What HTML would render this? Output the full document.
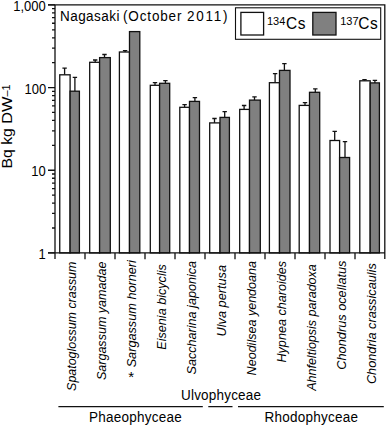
<!DOCTYPE html><html><head><meta charset="utf-8"><style>html,body{margin:0;padding:0;background:#fff;width:387px;height:426px;overflow:hidden}svg{display:block}text{font-family:"Liberation Sans",sans-serif;fill:#000}</style></head><body>
<svg width="387" height="426" viewBox="0 0 387 426">
<path d="M64.60 74.80V68.20M62.40 68.20H66.80" stroke="#111" stroke-width="1.3" fill="none"/>
<path d="M74.90 91.20V77.30M72.70 77.30H77.10" stroke="#111" stroke-width="1.3" fill="none"/>
<rect x="59.75" y="74.80" width="10.35" height="178.10" fill="#fff" stroke="#111" stroke-width="1.3"/>
<rect x="70.10" y="91.20" width="9.30" height="161.70" fill="#808080" stroke="#111" stroke-width="1.3"/>
<path d="M95.20 62.30V60.00M93.00 60.00H97.40" stroke="#111" stroke-width="1.3" fill="none"/>
<path d="M104.50 57.60V54.50M102.30 54.50H106.70" stroke="#111" stroke-width="1.3" fill="none"/>
<rect x="89.70" y="62.30" width="9.90" height="190.60" fill="#fff" stroke="#111" stroke-width="1.3"/>
<rect x="99.60" y="57.60" width="10.70" height="195.30" fill="#808080" stroke="#111" stroke-width="1.3"/>
<path d="M125.10 52.00V50.60M122.90 50.60H127.30" stroke="#111" stroke-width="1.3" fill="none"/>
<rect x="119.40" y="52.00" width="10.10" height="200.90" fill="#fff" stroke="#111" stroke-width="1.3"/>
<rect x="129.50" y="31.60" width="10.30" height="221.30" fill="#808080" stroke="#111" stroke-width="1.3"/>
<path d="M155.00 85.30V82.70M152.80 82.70H157.20" stroke="#111" stroke-width="1.3" fill="none"/>
<path d="M165.40 83.30V80.60M163.20 80.60H167.60" stroke="#111" stroke-width="1.3" fill="none"/>
<rect x="150.30" y="85.30" width="9.30" height="167.60" fill="#fff" stroke="#111" stroke-width="1.3"/>
<rect x="159.60" y="83.30" width="10.10" height="169.60" fill="#808080" stroke="#111" stroke-width="1.3"/>
<path d="M184.60 107.30V104.60M182.40 104.60H186.80" stroke="#111" stroke-width="1.3" fill="none"/>
<path d="M194.90 101.40V97.60M192.70 97.60H197.10" stroke="#111" stroke-width="1.3" fill="none"/>
<rect x="179.80" y="107.30" width="9.70" height="145.60" fill="#fff" stroke="#111" stroke-width="1.3"/>
<rect x="189.50" y="101.40" width="10.00" height="151.50" fill="#808080" stroke="#111" stroke-width="1.3"/>
<path d="M214.50 122.90V118.50M212.30 118.50H216.70" stroke="#111" stroke-width="1.3" fill="none"/>
<path d="M224.70 117.40V111.70M222.50 111.70H226.90" stroke="#111" stroke-width="1.3" fill="none"/>
<rect x="209.70" y="122.90" width="10.30" height="130.00" fill="#fff" stroke="#111" stroke-width="1.3"/>
<rect x="220.00" y="117.40" width="9.40" height="135.50" fill="#808080" stroke="#111" stroke-width="1.3"/>
<path d="M244.10 109.40V105.50M241.90 105.50H246.30" stroke="#111" stroke-width="1.3" fill="none"/>
<path d="M254.50 100.10V96.80M252.30 96.80H256.70" stroke="#111" stroke-width="1.3" fill="none"/>
<rect x="239.70" y="109.40" width="9.80" height="143.50" fill="#fff" stroke="#111" stroke-width="1.3"/>
<rect x="249.50" y="100.10" width="10.80" height="152.80" fill="#808080" stroke="#111" stroke-width="1.3"/>
<path d="M275.10 82.70V73.70M272.90 73.70H277.30" stroke="#111" stroke-width="1.3" fill="none"/>
<path d="M284.40 70.40V63.70M282.20 63.70H286.60" stroke="#111" stroke-width="1.3" fill="none"/>
<rect x="269.40" y="82.70" width="10.10" height="170.20" fill="#fff" stroke="#111" stroke-width="1.3"/>
<rect x="279.50" y="70.40" width="10.50" height="182.50" fill="#808080" stroke="#111" stroke-width="1.3"/>
<path d="M305.00 105.40V102.70M302.80 102.70H307.20" stroke="#111" stroke-width="1.3" fill="none"/>
<path d="M315.30 92.30V88.90M313.10 88.90H317.50" stroke="#111" stroke-width="1.3" fill="none"/>
<rect x="299.20" y="105.40" width="10.30" height="147.50" fill="#fff" stroke="#111" stroke-width="1.3"/>
<rect x="309.50" y="92.30" width="10.20" height="160.60" fill="#808080" stroke="#111" stroke-width="1.3"/>
<path d="M334.70 140.50V131.40M332.50 131.40H336.90" stroke="#111" stroke-width="1.3" fill="none"/>
<path d="M345.00 157.50V141.70M342.80 141.70H347.20" stroke="#111" stroke-width="1.3" fill="none"/>
<rect x="330.00" y="140.50" width="9.60" height="112.40" fill="#fff" stroke="#111" stroke-width="1.3"/>
<rect x="339.60" y="157.50" width="10.00" height="95.40" fill="#808080" stroke="#111" stroke-width="1.3"/>
<path d="M364.50 80.80V79.60M362.30 79.60H366.70" stroke="#111" stroke-width="1.3" fill="none"/>
<path d="M374.90 82.90V80.30M372.70 80.30H377.10" stroke="#111" stroke-width="1.3" fill="none"/>
<rect x="359.80" y="80.80" width="10.40" height="172.10" fill="#fff" stroke="#111" stroke-width="1.3"/>
<rect x="370.20" y="82.90" width="9.20" height="170.00" fill="#808080" stroke="#111" stroke-width="1.3"/>
<path d="M48 4.9H384.8V258.9M55 4.9V259M48 252.9H384.8" fill="none" stroke="#111" stroke-width="1.3"/>
<path d="M48 252.91H55M48 170.24H55M48 87.57H55M48 4.90H55M52 228.02H55M52 213.47H55M52 203.14H55M52 195.13H55M52 188.58H55M52 183.05H55M52 178.25H55M52 174.02H55M52 145.35H55M52 130.80H55M52 120.47H55M52 112.46H55M52 105.91H55M52 100.38H55M52 95.58H55M52 91.35H55M52 62.68H55M52 48.13H55M52 37.80H55M52 29.79H55M52 23.24H55M52 17.71H55M52 12.91H55M52 8.68H55M85 252.9V259.3M115 252.9V259.3M145 252.9V259.3M175 252.9V259.3M205 252.9V259.3M235 252.9V259.3M265 252.9V259.3M295 252.9V259.3M325 252.9V259.3M355 252.9V259.3" fill="none" stroke="#111" stroke-width="1.3"/>
<text transform="translate(45.7,11.1) scale(1,1.08)" font-size="13" letter-spacing="0" text-anchor="end" >1,000</text>
<text transform="translate(46.2,93.77) scale(1,1.08)" font-size="13" letter-spacing="0" text-anchor="end" >100</text>
<text transform="translate(45.7,176.44) scale(1,1.08)" font-size="13" letter-spacing="0" text-anchor="end" >10</text>
<text transform="translate(45.7,259.11) scale(1,1.08)" font-size="13" letter-spacing="0" text-anchor="end" >1</text>
<text transform="translate(12.4,168.4) rotate(-90) scale(1.1,1)" font-size="14.3">Bq kg <tspan font-size="14.9">DW</tspan><tspan font-size="10" dy="-2.6">–1</tspan></text>
<text transform="translate(60,21) scale(1,1.08)" font-size="13.5" letter-spacing="0.45" text-anchor="start" >Nagasaki</text>
<text transform="translate(123,21) scale(1,1.08)" font-size="13.5" letter-spacing="0.85" text-anchor="start" >(October</text>
<text transform="translate(187,21) scale(1,1.08)" font-size="13.5" letter-spacing="1.75" text-anchor="start" >2011)</text>
<rect x="235.5" y="7.8" width="145.2" height="31.5" fill="#fff" stroke="#111" stroke-width="1.1"/>
<rect x="240.9" y="12.4" width="22.7" height="22.6" fill="#fff" stroke="#111" stroke-width="1.3"/>
<rect x="312.8" y="12.4" width="23.2" height="22.6" fill="#808080" stroke="#111" stroke-width="1.3"/>
<text transform="translate(267,25) scale(1,1.0)" font-size="11" letter-spacing="0" text-anchor="start" >134</text>
<text transform="translate(286,28.5) scale(1,1.08)" font-size="15.5" letter-spacing="0.6" text-anchor="start" >Cs</text>
<text transform="translate(340.2,25) scale(1,1.0)" font-size="11" letter-spacing="0" text-anchor="start" >137</text>
<text transform="translate(358.2,28.5) scale(1,1.08)" font-size="15.5" letter-spacing="0.6" text-anchor="start" >Cs</text>
<text transform="translate(75.6,261.6) rotate(-90) scale(0.9575,1)" font-size="13" font-style="italic" text-anchor="end">Spatoglossum crassum</text>
<text transform="translate(105.6,261.6) rotate(-90) scale(0.9653,1)" font-size="13" font-style="italic" text-anchor="end">Sargassum yamadae</text>
<text transform="translate(135.6,260.1) rotate(-90) scale(0.9771,1)" font-size="13" font-style="italic" text-anchor="end">Sargassum horneri</text>
<text transform="translate(165.6,264.2) rotate(-90) scale(0.9716,1)" font-size="13" font-style="italic" text-anchor="end">Eisenia bicyclis</text>
<text transform="translate(195.6,261) rotate(-90) scale(0.9690,1)" font-size="13" font-style="italic" text-anchor="end">Saccharina japonica</text>
<text transform="translate(225.6,264.9) rotate(-90) scale(0.9819,1)" font-size="13" font-style="italic" text-anchor="end">Ulva pertusa</text>
<text transform="translate(255.6,261) rotate(-90) scale(0.9661,1)" font-size="13" font-style="italic" text-anchor="end">Neodilsea yendoana</text>
<text transform="translate(285.6,260.9) rotate(-90) scale(0.9712,1)" font-size="13" font-style="italic" text-anchor="end">Hypnea charoides</text>
<text transform="translate(315.6,264.2) rotate(-90) scale(0.9641,1)" font-size="13" font-style="italic" text-anchor="end">Ahnfeltiopsis paradoxa</text>
<text transform="translate(345.6,260.5) rotate(-90) scale(0.9818,1)" font-size="13" font-style="italic" text-anchor="end">Chondrus ocellatus</text>
<text transform="translate(375.6,263.2) rotate(-90) scale(0.9787,1)" font-size="13" font-style="italic" text-anchor="end">Chondria crassicaulis</text>
<text x="128.3" y="382" font-size="15">*</text>
<path d="M58.4 406.6H202.8M208.3 406.6H232.5M238 406.6H383.8" stroke="#111" stroke-width="1.2"/>
<text transform="translate(89,422) scale(1,1.08)" font-size="13.5" letter-spacing="0.25" text-anchor="start" >Phaeophyceae</text>
<text transform="translate(264.5,422) scale(1,1.08)" font-size="13.5" letter-spacing="0.25" text-anchor="start" >Rhodophyceae</text>
<text transform="translate(181,400) scale(1,1.08)" font-size="13.5" letter-spacing="0.2" text-anchor="start" >Ulvophyceae</text>
</svg></body></html>
